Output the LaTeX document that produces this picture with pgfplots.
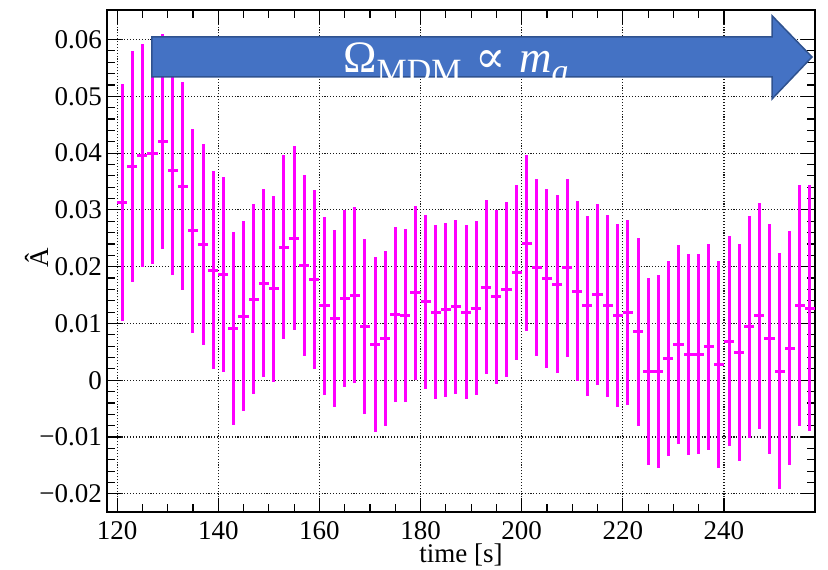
\documentclass[border=0pt]{standalone}
\usepackage{fontspec}
\setmainfont{Liberation Serif}
\newfontfamily\labelfont{Liberation Serif}
\newfontfamily\propfont{DejaVu Serif}
\usepackage{pgfplots}
\usepackage{pgfplotstable}
\pgfplotsset{compat=1.18}

\definecolor{arrowfill}{HTML}{4472C4}
\definecolor{arrowedge}{HTML}{2F528F}
\definecolor{barcol}{RGB}{255,0,255}

% asymmetry estimate per 2 s time bin: centre, error
\pgfplotstableread{
t   y       e
121 0.0313  0.0209
123 0.0376  0.0203
125 0.0396  0.0196
127 0.0399  0.0194
129 0.0420  0.0189
131 0.0369  0.0184
133 0.0342  0.0183
135 0.0263  0.0180
137 0.0239  0.0177
139 0.0194  0.0174
141 0.0186  0.0172
143 0.0091  0.0170
145 0.0113  0.0167
147 0.0143  0.0167
149 0.0171  0.0166
151 0.0161  0.0164
153 0.0234  0.0162
155 0.0250  0.0162
157 0.0202  0.0160
159 0.0177  0.0158
161 0.0131  0.0157
163 0.0109  0.0156
165 0.0144  0.0156
167 0.0150  0.0155
169 0.0094  0.0154
171 0.0063  0.0154
173 0.0073  0.0154
175 0.0116  0.0154
177 0.0114  0.0153
179 0.0154  0.0153
181 0.0138  0.0153
183 0.0120  0.0153
185 0.0124  0.0153
187 0.0129  0.0153
189 0.0120  0.0153
191 0.0127  0.0153
193 0.0164  0.0153
195 0.0147  0.0153
197 0.0160  0.0154
199 0.0190  0.0154
201 0.0241  0.0155
203 0.0198  0.0156
205 0.0179  0.0157
207 0.0169  0.0157
209 0.0198  0.0157
211 0.0157  0.0158
213 0.0131  0.0158
215 0.0151  0.0160
217 0.0131  0.0160
219 0.0114  0.0161
221 0.0119  0.0163
223 0.0085  0.0165
225 0.0015  0.0165
227 0.0015  0.0170
229 0.0038  0.0172
231 0.0063  0.0175
233 0.0045  0.0177
235 0.0046  0.0176
237 0.0059  0.0181
239 0.0028  0.0182
241 0.0069  0.0185
243 0.0049  0.0191
245 0.0094  0.0195
247 0.0114  0.0199
249 0.0073  0.0203
251 0.0016  0.0208
253 0.0056  0.0206
255 0.0131  0.0212
257 0.0127  0.0216
}\asym

\begin{document}
\begin{tikzpicture}
\begin{axis}[
  scale only axis,
  width=708pt, height=502pt,
  xmin=118, xmax=258,
  ymin=-0.0232, ymax=0.0652,
  font=\fontsize{27}{31}\selectfont\labelfont,
  /pgf/number format/assume math mode=true,
  xtick={120,140,160,180,200,220,240},
  xticklabels={{\labelfont 120},{\labelfont 140},{\labelfont 160},{\labelfont 180},{\labelfont 200},{\labelfont 220},{\labelfont 240}},
  minor x tick num=3,
  ytick={-0.02,-0.01,0,0.01,0.02,0.03,0.04,0.05,0.06},
  yticklabels={{\labelfont −0.02},{\labelfont −0.01},{\labelfont 0},{\labelfont 0.01},{\labelfont 0.02},{\labelfont 0.03},{\labelfont 0.04},{\labelfont 0.05},{\labelfont 0.06}},
  minor y tick num=4,
  tick align=inside,
  xtick pos=both, ytick pos=both,
  major tick length=14pt, minor tick length=8pt,
  every tick/.style={black, line width=1.2pt},
  axis line style={line width=1.8pt},
  grid=major,
  major grid style={black!90, line width=1.1pt, dash pattern=on 1.1pt off 1.8pt},
  tick label style={font=\fontsize{27}{31}\selectfont\labelfont},
  xticklabel style={anchor=base, inner sep=0pt, yshift=-28pt},
  yticklabel style={anchor=east, inner sep=0pt, xshift=-5pt},
  xlabel={time [s]},
  xlabel style={at={(axis description cs:0.5,0)}, anchor=base, inner sep=0pt, yshift=-51pt},
  ylabel={Â},
  ylabel style={at={(axis description cs:-0.0833,0.506)}, anchor=base, inner sep=0pt},
]
\addplot[draw=none, mark=none,
  error bars/.cd,
    x dir=both, x fixed=1,
    y dir=both, y explicit,
    error mark=none,
    error bar style={draw=barcol, line width=3pt}]
  table[x=t, y=y, y error=e] {\asym};
\end{axis}

% block arrow with formula
\draw[arrowedge, line width=1.5pt, fill=arrowfill]
  (45pt,435pt) -- (665pt,435pt) -- (665pt,413pt) -- (705pt,455pt)
  -- (665pt,496.3pt) -- (665pt,475pt) -- (45pt,475pt) -- cycle;
\node[anchor=base west, inner sep=0pt, text=white,
      font=\fontsize{45}{50}\selectfont]
  at (236pt,439.5pt)
  {Ω\raisebox{-0.22em}{\fontsize{34}{38}\selectfont MDM}\hspace{0.3em}{\propfont ∝}\hspace{0.3em}\textit{m}\raisebox{-0.22em}{\fontsize{34}{38}\selectfont\textit{a}}};

\pgfresetboundingbox
\path[use as bounding box] (-107pt,-58pt) rectangle (721pt,512pt);
\end{tikzpicture}
\end{document}
